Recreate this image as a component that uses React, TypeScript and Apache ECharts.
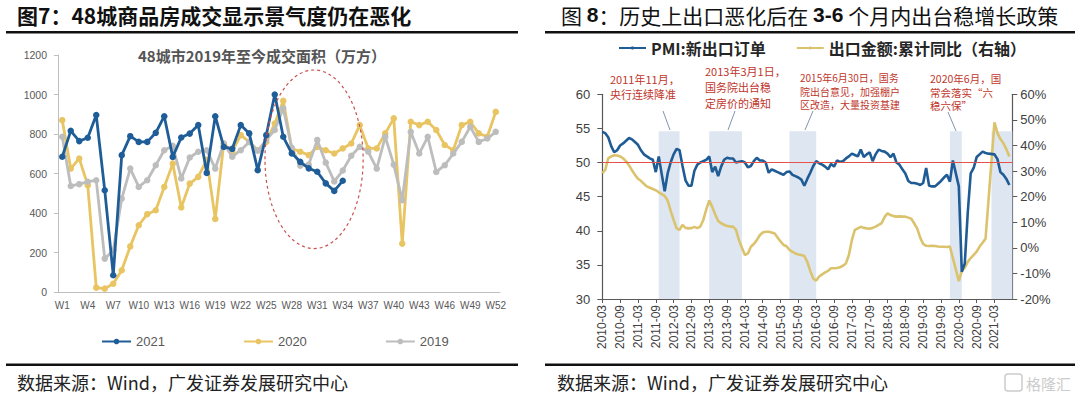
import React, { useEffect, useRef } from "react";
import * as echarts from "echarts";

// ---------- Left chart data (图7) ----------
const WEEKS: string[] = Array.from({ length: 52 }, (_, i) => `W${i + 1}`);
const Y2021: number[] = [685, 816, 764, 781, 896, 515, 85, 693, 789, 760, 760, 806, 890, 684, 782, 802, 845, 603, 890, 735, 725, 845, 803, 617, 794, 1000, 786, 702, 659, 626, 609, 550, 512, 563];
const Y2020: number[] = [870, 625, 676, 541, 22, 17, 42, 110, 231, 338, 394, 414, 532, 650, 428, 549, 583, 670, 370, 752, 712, 794, 760, 718, 760, 853, 968, 727, 710, 693, 735, 718, 701, 727, 752, 845, 727, 727, 803, 879, 245, 862, 845, 862, 820, 744, 718, 845, 862, 803, 786, 912];
const Y2019: number[] = [786, 537, 546, 558, 566, 169, 210, 473, 625, 532, 566, 642, 718, 740, 575, 681, 710, 718, 625, 752, 685, 718, 760, 715, 770, 820, 930, 730, 640, 645, 770, 655, 560, 615, 690, 735, 710, 625, 786, 645, 465, 811, 701, 786, 608, 642, 701, 760, 837, 760, 777, 811];
const LEFT_SERIES_NAMES = ["2021", "2020", "2019"];

// ---------- Right chart data (图8) ----------
const MONTHS: string[] = [];
for (let y = 2010; y <= 2021; y++) {
  for (let m = 1; m <= 12; m++) {
    if (y === 2010 && m < 3) continue;
    if (y === 2021 && m > 9) continue;
    MONTHS.push(`${y}-${String(m).padStart(2, "0")}`);
  }
}
const PMI_EXPORT: (number | null)[] = [
  54.5, 54.3, 53.7, 52.4, 51.5, 51.8, 52.5, 52.8, 53.2, 53.6,
  53.4, 53.0, 52.6, 51.8, 51.2, 50.9, 50.6, 50.4, 48.6, 50.9, 48.3, 45.8,
  48.4, 50.0, 51.2, 52.0, 51.8, 49.5, 47.4, 46.6, 46.6, 48.8, 49.7, 50.0,
  50.2, 50.4, 50.9, 48.6, 49.4, 48.0, 49.4, 50.4, 50.7, 50.6, 50.6, 50.0,
  50.1, 50.2, 50.0, 49.3, 49.5, 50.2, 50.7, 50.3, 50.3, 50.0, 48.5, 49.0,
  48.8, 48.6, 48.4, 48.2, 48.6, 48.7, 48.2, 48.0, 47.8, 47.5, 46.6, 47.6,
  48.5, 49.5, 50.2, 49.9, 49.7, 49.4, 49.0, 49.8, 49.4, 50.3, 50.1, 50.2,
  50.6, 50.9, 51.3, 51.1, 50.9, 51.9, 50.8, 51.2, 51.5, 50.2, 51.2, 51.9,
  51.7, 51.6, 51.3, 50.8, 51.3, 50.0, 49.7, 49.0, 48.4, 47.3, 47.0, 47.0,
  46.9, 46.7, 47.0, 49.2, 46.6, 46.5, 46.5, 46.9, 47.3, 47.8, 48.2, 47.2,
  50.3, null, 46.5, 34.0, 35.2, 42.6, 48.4, 49.2, 50.8, 51.2, 51.6, 51.4,
  51.3, null, 51.2, 50.5, 48.6, 48.2, 47.6, 46.7, null,
];
const EXPORT_YOY: (number | null)[] = [
  29.2, 30.5, 35.0, 35.7, 36.2, 36.1, 35.7, 35.0, 33.8, 32.2,
  30.3, 28.5, 27.0, 26.2, 25.0, 24.0, 23.5, 23.0, 22.5, 21.7, 21.0, 20.3,
  18.5, 14.5, 10.9, 7.6, 7.0, 9.0, 7.8, 7.6, 7.7, 8.2, 7.7, 8.3,
  10.9, 15.0, 18.5, 16.0, 13.0, 10.5, 9.6, 9.0, 8.5, 8.3, 8.3, 7.0,
  3.0, 0.0, -2.8, -2.2, 0.4, 1.5, 3.0, 4.9, 6.0, 6.3, 6.3, 6.0,
  5.6, 4.0, 2.5, 1.1, 0.6, -0.8, -1.6, -2.2, -2.6, -2.8, -3.2, -5.5,
  -9.0, -12.0, -12.8, -11.2, -10.4, -9.6, -9.0, -8.0, -8.0, -7.9, -7.6, -7.0,
  -6.1, -2.8, 3.0, 7.0, 7.6, 8.2, 7.8, 7.6, 7.5, 7.8, 8.3, 9.0,
  9.6, 12.0, 13.5, 12.8, 12.4, 12.2, 12.3, 12.2, 12.2, 11.8, 11.4, 9.5,
  7.5, 4.0, 1.5, 0.8, 0.7, 0.8, 0.7, 0.5, 0.4, 0.4, 0.3, 0.5,
  null, null, -13.0, -9.0, -7.7, -5.5, -4.0, -2.8, -1.5, 0.5, 2.0, 3.6,
  null, null, 49.0, 44.8, 42.5, 40.9, 38.5, 35.7, null,
];
const POLICY_BANDS: [string, string][] = [
  ["2011-10", "2012-05"],
  ["2013-03", "2014-02"],
  ["2015-06", "2016-03"],
  ["2019-12", "2020-04"],
  ["2021-02", "2021-09"],
];
const BAND_TOP = 54.6;
const PMI_LINE = 50;
const RIGHT_SERIES_NAMES = ["PMI:新出口订单", "出口金额:累计同比（右轴）"];
const NOTE_TEXTS: string[][] = [
  ["2011年11月，", "央行连续降准"],
  ["2013年3月1日，", "国务院出台稳", "定房价的通知"],
  ["2015年6月30日，国务", "院出台意见，加强棚户", "区改造，大量投资基建"],
  ["2020年6月，国", "常会落实“六", "稳六保”"],
];
// dashed circle around weeks W25–W36 (index span) and values 220–1124
const HIGHLIGHT = { i0: 23.85, i1: 35.4, v0: 1124, v1: 220 };

const TITLE_L = "图7：48城商品房成交显示景气度仍在恶化";
const SUB_L = "48城市2019年至今成交面积（万方）";
const SOURCE = "数据来源：Wind，广发证券发展研究中心";

const FONT = '"Liberation Sans", "Noto Sans CJK SC", sans-serif';
const CJK = '"Noto Sans CJK SC", "Liberation Sans", sans-serif';

const BLUE_L = "#1f5d98";
const YEL_L = "#e8c562";
const GRAY_L = "#bdbdbd";
const BLUE_R = "#1f5b94";
const YEL_R = "#dbc36e";
const NOTE_RED = "#c0362c";

export default function App() {
  const ref = useRef<HTMLDivElement>(null);

  useEffect(() => {
    document.body.style.margin = "0";
    const chart = echarts.init(ref.current!, null, { renderer: "svg" });
    const monthTick = (i: number) => i % 6 === 0 && i < MONTHS.length - 1;

    const mkLeft = (name: string, data: number[], color: string, z: number) => ({
      name,
      type: "line",
      xAxisIndex: 0,
      yAxisIndex: 0,
      data,
      symbol: "circle",
      symbolSize: 6.5,
      showAllSymbol: true,
      z,
      lineStyle: { width: 2.8, color },
      itemStyle: { color },
    });

    const option: any = {
      animation: false,
      textStyle: { fontFamily: FONT },
      grid: [
        { left: 58, top: 55, width: 442, height: 237 },
        { left: 602.3, top: 94.3, width: 410, height: 204.7 },
      ],
      legend: [
        {
          data: LEFT_SERIES_NAMES,
          left: 96,
          top: 330,
          itemWidth: 29,
          itemHeight: 7,
          itemGap: 78,
          textStyle: { fontSize: 13, color: "#595959", fontFamily: FONT },
        },
        {
          data: RIGHT_SERIES_NAMES,
          left: 613,
          top: 35,
          itemWidth: 27,
          itemHeight: 4,
          itemGap: 30,
          textStyle: { fontSize: 16, fontWeight: "bold", color: "#262626", fontFamily: CJK },
        },
      ],
      xAxis: [
        {
          type: "category",
          gridIndex: 0,
          data: WEEKS,
          boundaryGap: true,
          axisLine: { onZero: false, lineStyle: { color: "#bfbfbf", width: 1 } },
          axisTick: { interval: 0, length: 3, lineStyle: { color: "#bfbfbf" } },
          axisLabel: { interval: 2, fontSize: 10, color: "#595959", margin: 8 },
          splitLine: { show: false },
        },
        {
          type: "category",
          gridIndex: 1,
          data: MONTHS,
          boundaryGap: false,
          axisLine: { onZero: false, lineStyle: { color: "#595959", width: 1.2 } },
          axisTick: { interval: monthTick, length: 4, lineStyle: { color: "#595959" } },
          axisLabel: { interval: monthTick, rotate: 90, fontSize: 12, color: "#404040", margin: 6 },
          splitLine: { show: false },
        },
      ],
      yAxis: [
        {
          type: "value",
          gridIndex: 0,
          min: 0,
          max: 1200,
          interval: 200,
          axisLine: { show: true, lineStyle: { color: "#bfbfbf" } },
          axisTick: { show: true, length: 4, lineStyle: { color: "#bfbfbf" } },
          axisLabel: { fontSize: 10.5, color: "#595959", margin: 11, formatter: (v: number) => String(v) },
          splitLine: { show: false },
        },
        {
          type: "value",
          gridIndex: 1,
          position: "left",
          min: 30,
          max: 60,
          interval: 5,
          axisLine: { show: true, onZero: false, lineStyle: { color: "#595959", width: 1.2 } },
          axisTick: { show: true, length: 5, lineStyle: { color: "#595959" } },
          axisLabel: { fontSize: 13, color: "#404040", margin: 12 },
          splitLine: { show: false },
        },
        {
          type: "value",
          gridIndex: 1,
          position: "right",
          min: -20,
          max: 60,
          interval: 10,
          axisLine: { show: true, onZero: false, lineStyle: { color: "#595959", width: 1.2 } },
          axisTick: { show: true, length: 5, lineStyle: { color: "#595959" } },
          axisLabel: { fontSize: 13, color: "#404040", margin: 8, formatter: "{value}%" },
          splitLine: { show: false },
        },
      ],
      series: [
        mkLeft("2020", Y2020, YEL_L, 2),
        mkLeft("2019", Y2019, GRAY_L, 3),
        mkLeft("2021", Y2021, BLUE_L, 4),
        {
          name: "bands",
          type: "line",
          xAxisIndex: 1,
          yAxisIndex: 1,
          data: [],
          z: 1,
          markArea: {
            silent: true,
            itemStyle: { color: "#dde6f1" },
            data: POLICY_BANDS.map(([a, b]) => [
              { xAxis: a, yAxis: 30 },
              { xAxis: b, yAxis: BAND_TOP },
            ]),
          },
        },
        {
          name: RIGHT_SERIES_NAMES[1],
          type: "line",
          xAxisIndex: 1,
          yAxisIndex: 2,
          data: EXPORT_YOY,
          connectNulls: true,
          symbol: "none",
          z: 3,
          lineStyle: { width: 2.6, color: YEL_R },
          itemStyle: { color: YEL_R },
        },
        {
          name: RIGHT_SERIES_NAMES[0],
          type: "line",
          xAxisIndex: 1,
          yAxisIndex: 1,
          data: PMI_EXPORT,
          connectNulls: true,
          symbol: "none",
          z: 4,
          lineStyle: { width: 2.6, color: BLUE_R },
          itemStyle: { color: BLUE_R },
          markLine: {
            silent: true,
            symbol: ["none", "none"],
            label: { show: false },
            lineStyle: { color: "#e5524a", width: 1.2, type: "solid" },
            data: [{ yAxis: PMI_LINE }],
          },
        },
      ],
    };
    chart.setOption(option);

    // dashed highlight circle, positioned through the left chart's axes
    const a = chart.convertToPixel({ gridIndex: 0 }, [0, HIGHLIGHT.v0]) as number[];
    const b = chart.convertToPixel({ gridIndex: 0 }, [1, HIGHLIGHT.v1]) as number[];
    const step = b[0] - a[0];
    const exL = a[0] + HIGHLIGHT.i0 * step;
    const exR = a[0] + HIGHLIGHT.i1 * step;

    const noteLayout = [
      { x: 610, ys: [78.5, 93.5], size: 11 },
      { x: 705, ys: [71, 87, 102.5], size: 11 },
      { x: 800, ys: [77.5, 91, 104.5], size: 10 },
      { x: 930, ys: [78.5, 92, 105.5], size: 10.5 },
    ];
    const leaders = [
      [663, 111, 670, 130],
      [735, 111, 728, 130],
      [813, 111, 805, 130],
      [948, 112, 956, 131],
    ];
    const elements: any[] = [];
    // titles
    elements.push({
      type: "text", left: 17, top: 4,
      style: { text: TITLE_L, font: `bold 21px ${CJK}`, fill: "#111" },
    });
    elements.push({
      type: "text", left: 561, top: 4,
      style: {
        text: "{n|图 }{b|8}{n|：历史上出口恶化后在 }{b|3-6}{n| 个月内出台稳增长政策}",
        rich: {
          n: { fontSize: 21, fontFamily: CJK, fontWeight: "normal", fill: "#111" },
          b: { fontSize: 21, fontFamily: FONT, fontWeight: "bold", fill: "#111" },
        },
      },
    });
    // rules
    elements.push({ type: "rect", shape: { x: 6, y: 31, width: 512, height: 2.5 }, style: { fill: "#111" } });
    elements.push({ type: "rect", shape: { x: 545, y: 31, width: 530, height: 2.5 }, style: { fill: "#111" } });
    elements.push({ type: "rect", shape: { x: 6, y: 363.5, width: 512, height: 2.5 }, style: { fill: "#111" } });
    elements.push({ type: "rect", shape: { x: 545, y: 363.5, width: 530, height: 2.5 }, style: { fill: "#111" } });
    // subtitle of left chart
    elements.push({
      type: "text", x: 262, y: 55,
      style: { text: SUB_L, font: `bold 15px ${CJK}`, fill: "#555555", textAlign: "center", textVerticalAlign: "middle" },
    });
    // sources
    elements.push({
      type: "text", x: 17, y: 382,
      style: { text: SOURCE, font: `18px ${CJK}`, fill: "#222", textVerticalAlign: "middle" },
    });
    elements.push({
      type: "text", x: 557, y: 382,
      style: { text: SOURCE, font: `18px ${CJK}`, fill: "#222", textVerticalAlign: "middle" },
    });
    // watermark
    elements.push({
      type: "rect", shape: { x: 1005, y: 374, width: 17, height: 17, r: 3 },
      style: { fill: "none", stroke: "#cccccc", lineWidth: 1.5 },
    });
    elements.push({
      type: "text", x: 1026, y: 383,
      style: { text: "格隆汇", font: `15px ${CJK}`, fill: "#cccccc", textVerticalAlign: "middle" },
    });
    // annotations
    NOTE_TEXTS.forEach((lines, k) => {
      lines.forEach((t, j) => {
        elements.push({
          type: "text", x: noteLayout[k].x, y: noteLayout[k].ys[j],
          style: { text: t, font: `${noteLayout[k].size}px ${CJK}`, fill: NOTE_RED, textVerticalAlign: "middle" },
        });
      });
    });
    leaders.forEach(([x1, y1, x2, y2]) => {
      elements.push({
        type: "line", shape: { x1, y1, x2, y2 },
        style: { stroke: "#7f96b0", lineWidth: 1 },
      });
    });
    // dashed circle
    elements.push({
      type: "ellipse",
      shape: { cx: (exL + exR) / 2, cy: (a[1] + b[1]) / 2, rx: (exR - exL) / 2, ry: (b[1] - a[1]) / 2 },
      style: { fill: "none", stroke: "#c9524f", lineWidth: 1.2, lineDash: [3, 3] },
      z: 100,
    });

    chart.setOption({ graphic: { elements } });

    return () => chart.dispose();
  }, []);

  return <div ref={ref} style={{ width: 1080, height: 395 }} />;
}
